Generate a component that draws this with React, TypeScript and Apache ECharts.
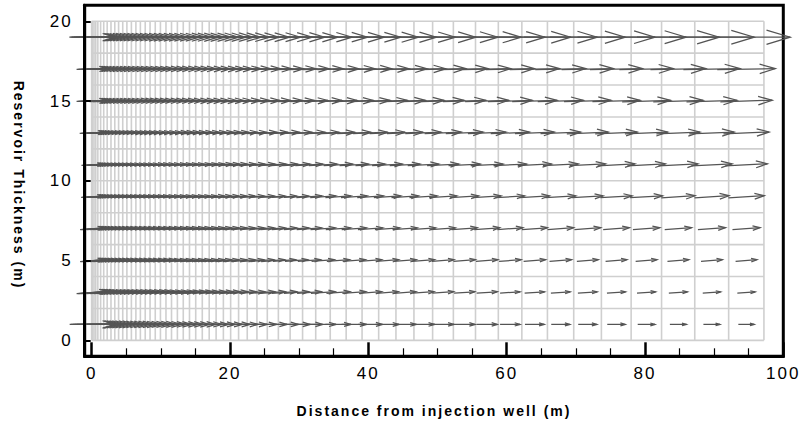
import React, { useEffect, useRef } from "react";
import * as echarts from "echarts";

// Cell edges of the simulation grid (m)
const xEdges = [
  0, 0.15, 0.35, 0.6, 0.9, 1.3, 1.75, 2.25, 2.8, 3.35, 3.9, 4.5, 5.1, 5.75, 6.4, 7.05, 7.75, 8.45, 9.2, 9.95,
  10.75, 11.55, 12.4, 13.25, 14.15, 15.05, 16.0, 17.0, 18.0, 19.05, 20.1, 21.25, 22.5, 23.9, 25.4, 27.0, 28.7,
  30.5, 32.4, 34.5, 36.8, 39.1, 41.5, 44.0, 46.6, 49.3, 52.3, 55.5, 58.8, 62.2, 65.9, 69.7, 73.7, 78.0, 82.4,
  87.2, 92.1, 97.2,
];
const yEdges = [0, 2, 4, 6, 8, 10, 12, 14, 16, 18, 20];

// Axis ticks
const xTickLabels = [0, 20, 40, 60, 80, 100];
const xMinorTicks = [5, 10, 15, 25, 30, 35, 45, 50, 55, 65, 70, 75, 85, 90, 95];
const yTickLabels = [0, 5, 10, 15, 20];

// Row centres (m) and per-row velocity magnitudes (one value per grid column)
const rowCenters = [1, 3, 5, 7, 9, 11, 13, 15, 17, 19];
const speedY1 = [65, 65, 64, 64, 64, 63, 62, 62, 61, 60, 60, 59, 58, 57, 56, 55, 55, 54, 53, 52, 51, 50, 50, 49, 48, 48, 47, 46, 45, 44, 44, 43, 43, 42, 41, 41, 40, 39, 38, 37, 36, 35, 34, 33, 33, 32, 31, 30, 29, 28, 27, 27, 26, 25, 24, 24, 23];
const speedY3 = [45, 45, 45, 45, 45, 45, 44, 44, 44, 44, 43, 43, 43, 43, 43, 42, 42, 42, 42, 41, 41, 41, 41, 40, 40, 40, 39, 39, 39, 38, 38, 38, 37, 37, 36, 36, 36, 35, 35, 34, 34, 33, 32, 32, 31, 31, 30, 30, 29, 29, 28, 28, 27, 27, 27, 26, 26];
const speedY5 = [35, 35, 35, 35, 35, 35, 35, 35, 35, 35, 35, 35, 35, 35, 35, 35, 35, 35, 35, 35, 34, 34, 34, 34, 34, 34, 34, 34, 34, 34, 34, 34, 34, 34, 34, 33, 33, 33, 33, 33, 33, 33, 33, 33, 33, 32, 32, 32, 32, 32, 32, 31, 31, 31, 31, 31, 31];
const speedY7 = [35, 35, 35, 35, 35, 35, 35, 35, 35, 35, 35, 35, 35, 35, 35, 35, 35, 35, 35, 35, 35, 35, 35, 35, 35, 35, 35, 35, 35, 35, 35, 35, 35, 35, 36, 36, 36, 36, 36, 36, 36, 36, 36, 36, 36, 36, 37, 37, 37, 37, 38, 38, 38, 39, 39, 40, 40];
const speedY9 = [32, 32, 32, 32, 32, 32, 32, 32, 32, 32, 33, 33, 33, 33, 33, 33, 33, 33, 33, 34, 34, 34, 34, 34, 34, 34, 34, 35, 35, 35, 35, 35, 36, 36, 36, 36, 36, 37, 37, 37, 38, 38, 39, 39, 40, 40, 41, 41, 42, 43, 44, 45, 46, 47, 49, 50, 52];
const speedY11 = [31, 31, 31, 31, 31, 31, 32, 32, 32, 32, 32, 32, 33, 33, 33, 33, 33, 34, 34, 34, 34, 35, 35, 35, 35, 36, 36, 36, 37, 37, 37, 38, 38, 38, 39, 39, 40, 40, 41, 42, 42, 43, 44, 44, 45, 46, 46, 47, 48, 49, 51, 52, 54, 55, 57, 59, 61];
const speedY13 = [36, 36, 36, 36, 36, 36, 37, 37, 37, 37, 37, 37, 38, 38, 38, 38, 38, 39, 39, 39, 39, 40, 40, 40, 40, 41, 41, 41, 42, 42, 42, 43, 43, 44, 44, 45, 46, 47, 47, 48, 49, 50, 51, 52, 52, 53, 54, 55, 56, 57, 58, 60, 61, 62, 63, 65, 66];
const speedY15 = [45, 45, 45, 45, 45, 45, 46, 46, 46, 46, 46, 46, 46, 47, 47, 47, 47, 47, 47, 48, 48, 48, 48, 48, 49, 49, 49, 49, 50, 50, 50, 51, 51, 52, 52, 53, 53, 54, 55, 55, 56, 57, 58, 59, 60, 61, 62, 63, 64, 65, 66, 68, 69, 70, 72, 73, 75];
const speedY17 = [45, 45, 45, 45, 45, 46, 46, 46, 46, 46, 46, 47, 47, 47, 47, 48, 48, 48, 48, 49, 49, 49, 50, 50, 50, 50, 51, 51, 52, 52, 52, 53, 54, 54, 55, 56, 57, 58, 59, 60, 61, 62, 63, 64, 65, 66, 68, 69, 70, 72, 73, 75, 76, 78, 80, 82, 84];
const speedY19 = [66, 66, 66, 66, 66, 67, 67, 67, 67, 67, 68, 68, 68, 68, 69, 69, 69, 70, 70, 70, 71, 71, 72, 72, 73, 73, 74, 75, 75, 76, 76, 77, 78, 79, 80, 81, 82, 83, 84, 85, 87, 88, 90, 91, 93, 95, 97, 99, 101, 104, 106, 109, 112, 115, 119, 123, 127];
// Upward slope (vertical / horizontal component) of the vectors in each row
const rowRise = [0, 0.07, 0.08, 0.07, 0.06, 0.05, 0.04, 0.03, 0.02, 0];

const rowSpeeds = [speedY1, speedY3, speedY5, speedY7, speedY9, speedY11, speedY13, speedY15, speedY17, speedY19];

const VEC_SCALE = 0.1; // data units of x per unit of speed
const FONT = '"Liberation Sans", Arial, sans-serif';
const ARROW_COLOR = "#545454";
const GRID_COLOR = "#cfcfcf";

export default function App() {
  const ref = useRef<HTMLDivElement>(null);

  useEffect(() => {
    if (!ref.current) return;
    const chart = echarts.init(ref.current, null, { renderer: "svg" });

    const colCenters = xEdges.slice(0, -1).map((e, i) => (e + xEdges[i + 1]) / 2);
    const arrowData: number[][] = [];
    rowCenters.forEach((yc, r) => {
      colCenters.forEach((xc, c) => {
        arrowData.push([xc, yc, rowSpeeds[r][c], rowRise[r]]);
      });
    });

    const xLo = xEdges[0];
    const xHi = xEdges[xEdges.length - 1];
    const yLo = yEdges[0];
    const yHi = yEdges[yEdges.length - 1];

    const option: any = {
      animation: false,
      backgroundColor: "#ffffff",
      grid: {
        left: 84.7,
        right: 20.7,
        top: 5.3,
        bottom: 73.7,
        show: true,
        borderColor: "#000",
        borderWidth: 3,
        backgroundColor: "transparent",
      },
      xAxis: [
        {
          type: "value",
          min: -1,
          max: 100,
          position: "bottom",
          axisLine: { show: true, onZero: false, lineStyle: { color: "#000", width: 3 } },
          axisTick: {
            show: true,
            inside: true,
            length: 14,
            customValues: xTickLabels,
            lineStyle: { color: "#000", width: 2.5 },
          },
          axisLabel: {
            show: true,
            customValues: xTickLabels,
            margin: 9,
            fontSize: 17,
            color: "#000",
            fontFamily: FONT,
          },
          splitLine: { show: false },
          z: 5,
        },
        {
          type: "value",
          min: -1,
          max: 100,
          position: "bottom",
          axisLine: { show: false, onZero: false },
          axisTick: {
            show: true,
            inside: true,
            length: 8,
            customValues: xMinorTicks,
            lineStyle: { color: "#000", width: 1.2 },
          },
          axisLabel: { show: false },
          splitLine: { show: false },
          z: 5,
        },
      ],
      yAxis: {
        type: "value",
        min: -1,
        max: 21,
        axisLine: { show: true, onZero: false, lineStyle: { color: "#000", width: 3 } },
        axisTick: {
          show: true,
          inside: true,
          length: 6,
          customValues: yTickLabels,
          lineStyle: { color: "#000", width: 2 },
        },
        axisLabel: {
          show: true,
          customValues: yTickLabels,
          margin: 12,
          fontSize: 17,
          color: "#000",
          fontFamily: FONT,
        },
        splitLine: { show: false },
        z: 5,
      },
      graphic: [
        {
          type: "text",
          x: 434,
          y: 411,
          style: {
            text: "Distance from injection well (m)",
            fontSize: 14,
            fontWeight: "bold",
            fontFamily: FONT,
            fill: "#000",
            align: "center",
            verticalAlign: "middle",
          },
        },
        {
          type: "text",
          x: 19,
          y: 185,
          rotation: -Math.PI / 2,
          style: {
            text: "Reservoir Thickness (m)",
            fontSize: 14,
            fontWeight: "bold",
            fontFamily: FONT,
            fill: "#000",
            align: "center",
            verticalAlign: "middle",
          },
        },
      ],
      series: [
        {
          type: "custom",
          name: "vlines",
          coordinateSystem: "cartesian2d",
          xAxisIndex: 0,
          z: 1,
          silent: true,
          clip: false,
          encode: { x: 0, y: 1 },
          data: xEdges.map((x) => [x, yLo]),
          renderItem: (_p: any, api: any) => {
            const a = api.coord([api.value(0), yLo]);
            const b = api.coord([api.value(0), yHi]);
            return {
              type: "line",
              shape: { x1: a[0], y1: a[1], x2: b[0], y2: b[1] },
              style: { stroke: GRID_COLOR, lineWidth: 1.6 },
            };
          },
        },
        {
          type: "custom",
          name: "hlines",
          coordinateSystem: "cartesian2d",
          xAxisIndex: 0,
          z: 1,
          silent: true,
          clip: false,
          encode: { x: 0, y: 1 },
          data: yEdges.map((y) => [xLo, y]),
          renderItem: (_p: any, api: any) => {
            const a = api.coord([xLo, api.value(1)]);
            const b = api.coord([xHi, api.value(1)]);
            return {
              type: "line",
              shape: { x1: a[0], y1: a[1], x2: b[0], y2: b[1] },
              style: { stroke: GRID_COLOR, lineWidth: 1.6 },
            };
          },
        },
        {
          type: "custom",
          name: "velocity",
          coordinateSystem: "cartesian2d",
          xAxisIndex: 0,
          z: 3,
          silent: true,
          clip: false,
          encode: { x: 0, y: 1 },
          data: arrowData,
          renderItem: (_p: any, api: any) => {
            const x = api.value(0);
            const y = api.value(1);
            const s = api.value(2);
            const rise = api.value(3);
            const c = api.coord([x, y]);
            const ppu = api.size([1, 0])[0];
            const L = s * VEC_SCALE * ppu;
            const n = Math.hypot(1, rise);
            const dx = 1 / n;
            const dy = -rise / n;
            const tx = c[0] - (dx * L) / 2;
            const ty = c[1] - (dy * L) / 2;
            const hx = c[0] + (dx * L) / 2;
            const hy = c[1] + (dy * L) / 2;
            const hl = L * 0.27;
            const hw = hl * 0.3;
            const bx = hx - dx * hl;
            const by = hy - dy * hl;
            const px = -dy;
            const py = dx;
            const st = { stroke: ARROW_COLOR, lineWidth: 1.25, fill: null };
            return {
              type: "group",
              children: [
                { type: "polyline", shape: { points: [[tx, ty], [hx, hy]] }, style: st },
                {
                  type: "polyline",
                  shape: {
                    points: [
                      [bx + px * hw, by + py * hw],
                      [hx, hy],
                      [bx - px * hw, by - py * hw],
                    ],
                  },
                  style: st,
                },
              ],
            };
          },
        },
      ],
    };

    chart.setOption(option);
    return () => chart.dispose();
  }, []);

  return (
    <>
      <style>{`#vchart svg text { letter-spacing: 2px; }`}</style>
      <div
        id="vchart"
        ref={ref}
        style={{ width: 804, height: 430, position: "absolute", left: 0, top: 0, background: "#fff" }}
      />
    </>
  );
}
